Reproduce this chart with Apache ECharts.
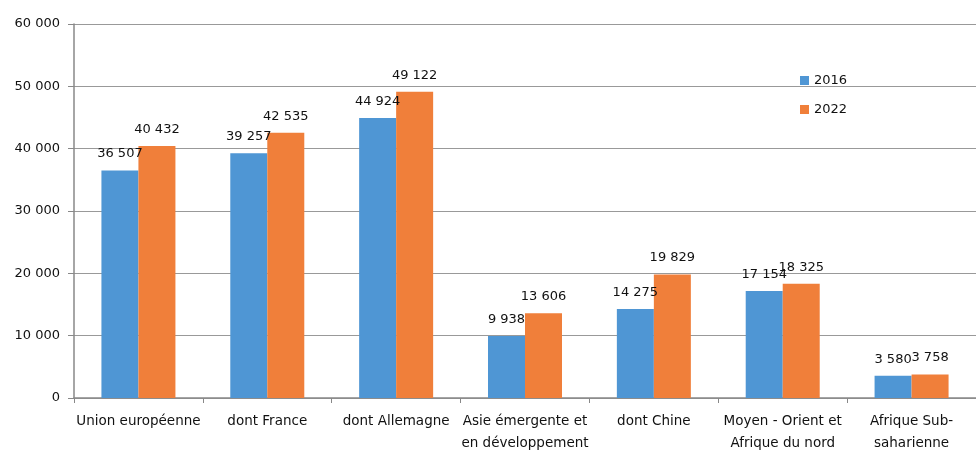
<!DOCTYPE html>
<html><head><meta charset="utf-8">
<script src="https://cdn.jsdelivr.net/npm/echarts@6/dist/echarts.min.js"></script>
<style>html,body{margin:0;padding:0;background:#fff}#c{width:976px;height:468px}</style>
</head><body><div id="c"></div>
<script>
var categories = ["Union européenne","dont France","dont Allemagne","Asie émergente et\nen développement","dont Chine","Moyen - Orient et\nAfrique du nord","Afrique Sub-\nsaharienne"];
var values2016 = [36507, 39257, 44924, 9938, 14275, 17154, 3580];
var values2022 = [40432, 42535, 49122, 13606, 19829, 18325, 3758];
var seriesNames = ["2016", "2022"];

function fmt(v){ return String(v).replace(/\B(?=(\d{3})+(?!\d))/g, " "); }

var chart = echarts.init(document.getElementById('c'), null, {renderer:'canvas'});
var font = "DejaVu Sans";
chart.setOption({
  animation:false,
  textStyle:{fontFamily:font},
  grid:{left:74,right:-6,top:24,bottom:70,containLabel:false},
  legend:{
    orient:'vertical', left:795, top:69, itemWidth:9, itemHeight:9, itemGap:16,
    icon:'rect',
    textStyle:{fontFamily:font,fontSize:13,color:'#111'},
    data:seriesNames
  },
  xAxis:{
    type:'category', data:categories,
    axisLine:{lineStyle:{color:'#888',width:1.5}},
    axisTick:{show:true,length:5,lineStyle:{color:'#888'}},
    axisLabel:{fontFamily:font,fontSize:13.5,color:'#111',margin:12,lineHeight:22,interval:0}
  },
  yAxis:{
    type:'value', min:0, max:60000, interval:10000,
    axisLine:{show:true,lineStyle:{color:'#888',width:1.5}},
    axisTick:{show:true,length:6,lineStyle:{color:'#888'}},
    splitLine:{lineStyle:{color:'#999',width:1}},
    axisLabel:{fontFamily:font,fontSize:13,color:'#111',margin:14,formatter:fmt}
  },
  series:[
    {name:seriesNames[0],type:'bar',data:values2016,barWidth:37,barGap:'0%',
     itemStyle:{color:'#4f96d4'},
     label:{show:true,position:'top',distance:10,fontFamily:font,fontSize:13,color:'#111',formatter:function(p){return fmt(p.value);}}},
    {name:seriesNames[1],type:'bar',data:values2022,barWidth:37,barGap:'0%',
     itemStyle:{color:'#f07f3a'},
     label:{show:true,position:'top',distance:10,fontFamily:font,fontSize:13,color:'#111',formatter:function(p){return fmt(p.value);}}}
  ]
});
</script></body></html>
